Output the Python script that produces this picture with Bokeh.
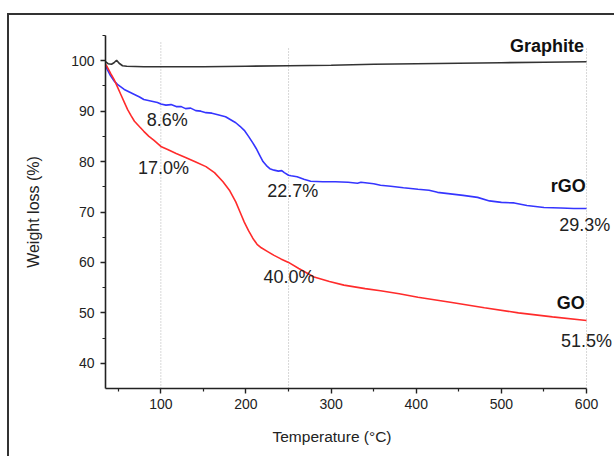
from bokeh.plotting import figure
from bokeh.models import Range1d, FixedTicker, Label, Title
from bokeh.embed import file_html
from bokeh.resources import INLINE

FONT = "Liberation Sans"

# Thermogravimetric curves: temperature (°C) vs remaining weight (%)
go_temp = [35, 37, 41, 45, 49, 53, 57, 61, 65, 69, 75, 80, 86, 92, 100, 108, 118, 129,
           141, 153, 163, 173, 181, 188, 193, 198, 203, 208, 213, 218, 225, 233, 241,
           250, 262, 280, 298, 315, 340, 358, 380, 402, 440, 480, 520, 560, 600]
go_weight = [99.3, 98.8, 97.5, 96.3, 94.8, 93.3, 91.8, 90.3, 89.1, 88.0, 86.9, 86.0,
             85.0, 84.2, 83.0, 82.4, 81.6, 80.8, 79.9, 79.0, 77.8, 76.0, 74.2, 72.0,
             70.0, 68.0, 66.3, 64.8, 63.6, 62.9, 62.2, 61.4, 60.7, 60.0, 58.8, 57.1,
             56.2, 55.5, 54.8, 54.4, 53.8, 53.1, 52.1, 51.0, 50.0, 49.2, 48.5]

rgo_temp = [35, 37, 41, 45, 49, 53, 57, 63, 69, 75, 80, 88, 96, 100, 106, 112, 118, 124,
            129, 135, 141, 147, 153, 160, 167, 176, 182, 188, 193, 198, 203, 208, 212,
            216, 220, 224, 228, 233, 238, 242, 245, 250, 253, 260, 268, 276, 290, 305,
            320, 331, 335, 340, 350, 358, 370, 385, 402, 415, 425, 440, 455, 472, 486,
            500, 515, 530, 550, 570, 585, 600]
rgo_weight = [99.0, 98.3, 97.0, 96.0, 95.3, 94.8, 94.3, 93.8, 93.3, 92.8, 92.3, 92.0,
              91.7, 91.4, 91.2, 91.3, 90.9, 90.9, 90.5, 90.6, 90.1, 90.0, 89.7, 89.6,
              89.3, 88.9, 88.3, 87.7, 87.0, 86.2, 85.0, 83.7, 82.6, 81.3, 80.0, 79.2,
              78.6, 78.3, 78.1, 78.2, 77.8, 77.3, 77.2, 77.0, 76.5, 76.1, 76.0, 76.0,
              75.9, 75.7, 75.9, 75.8, 75.6, 75.3, 75.1, 74.8, 74.5, 74.3, 73.9, 73.6,
              73.3, 72.9, 72.2, 71.9, 71.8, 71.3, 70.9, 70.8, 70.7, 70.7]

graphite_temp = [35, 38, 42, 45, 48, 51, 55, 60, 80, 100, 150, 200, 250, 300, 350, 400,
                 450, 500, 550, 600]
graphite_weight = [99.8, 99.4, 99.3, 99.6, 100.1, 99.5, 99.0, 98.9, 98.8, 98.8, 98.8,
                   98.9, 99.0, 99.1, 99.3, 99.4, 99.5, 99.6, 99.7, 99.8]

# Axis ticks
x_major = [100, 200, 300, 400, 500, 600]
x_minor = [50, 150, 250, 350, 450, 550]
y_major = [40, 50, 60, 70, 80, 90, 100]
y_minor = [45, 55, 65, 75, 85, 95, 105]

# Dotted reference temperatures
guide_temp = [100, 250, 600]
guide_bottom = [35, 35, 35]
guide_top = [103.7, 102.7, 102.4]

# Weight-loss annotations (text, x, y, align)
loss_labels = [
    ("8.6%", 107.5, 88.3, "center"),
    ("17.0%", 103, 78.8, "center"),
    ("22.7%", 255, 74.1, "center"),
    ("40.0%", 250.5, 57.1, "center"),
    ("29.3%", 568, 67.4, "left"),
    ("51.5%", 570, 44.5, "left"),
]
name_labels = [
    ("Graphite", 597, 102.9),
    ("rGO", 599, 75.2),
    ("GO", 598, 51.9),
]

# The frame runs a little past 600 °C so the end-point labels have room;
# the x axis itself stops at 600 through its bounds.
p = figure(width=607, height=443, x_range=Range1d(35, 635.2), y_range=Range1d(35, 105),
           output_backend="svg", toolbar_location=None,
           min_border_left=96, min_border_right=0, min_border_top=20, min_border_bottom=70)
p.styles = {"margin-left": "7px", "margin-top": "13px",
            "border-left": "2px solid #333333", "border-top": "2px solid #333333"}
p.outline_line_color = None
p.grid.visible = False
p.background_fill_color = "white"
p.border_fill_color = "white"

p.segment(x0=guide_temp, y0=guide_bottom, x1=guide_temp, y1=guide_top,
          line_color="#b0b0b0", line_width=1, line_dash="1 2")

p.line(graphite_temp, graphite_weight, line_color="#333333", line_width=1.6)
p.line(rgo_temp, rgo_weight, line_color="#3535ff", line_width=1.6)
p.line(go_temp, go_weight, line_color="#ff2b2b", line_width=1.6)

for ax in (p.xaxis[0], p.yaxis[0]):
    ax.axis_line_color = "#222222"
    ax.axis_line_width = 1.6
    ax.major_tick_line_color = "#222222"
    ax.minor_tick_line_color = "#222222"
    ax.major_tick_line_width = 1.4
    ax.minor_tick_line_width = 1.2
    ax.major_tick_in = 0
    ax.major_tick_out = 5
    ax.minor_tick_in = 0
    ax.minor_tick_out = 3
    ax.major_label_text_font = FONT
    ax.major_label_text_font_size = "14px"
    ax.major_label_text_color = "#222222"
    ax.axis_label_text_font = FONT
    ax.axis_label_text_font_size = "16px"
    ax.axis_label_text_font_style = "normal"
    ax.axis_label_text_color = "#222222"

p.xaxis.bounds = (35, 600)
p.xaxis.ticker = FixedTicker(ticks=x_major, minor_ticks=x_minor)
p.yaxis.ticker = FixedTicker(ticks=y_major, minor_ticks=y_minor)
p.yaxis.axis_label = "Weight loss (%)"
p.xaxis.major_label_standoff = 5
p.yaxis.major_label_standoff = 6
p.yaxis.axis_label_standoff = 26

# x-axis title
p.add_layout(Title(text="Temperature (°C)", align="left", offset=167, standoff=28,
                   text_font=FONT, text_font_size="15.5px", text_font_style="normal",
                   text_color="#222222"), "below")

for text, x, y, align in loss_labels:
    p.add_layout(Label(x=x, y=y, text=text, text_align=align, text_baseline="middle",
                       text_font=FONT, text_font_size="18px", text_color="#222222"))
for text, x, y in name_labels:
    p.add_layout(Label(x=x, y=y, text=text, text_align="right", text_baseline="middle",
                       text_font=FONT, text_font_size="18px", text_font_style="bold",
                       text_color="#111111"))

open("out.html", "w").write(file_html(p, INLINE))
